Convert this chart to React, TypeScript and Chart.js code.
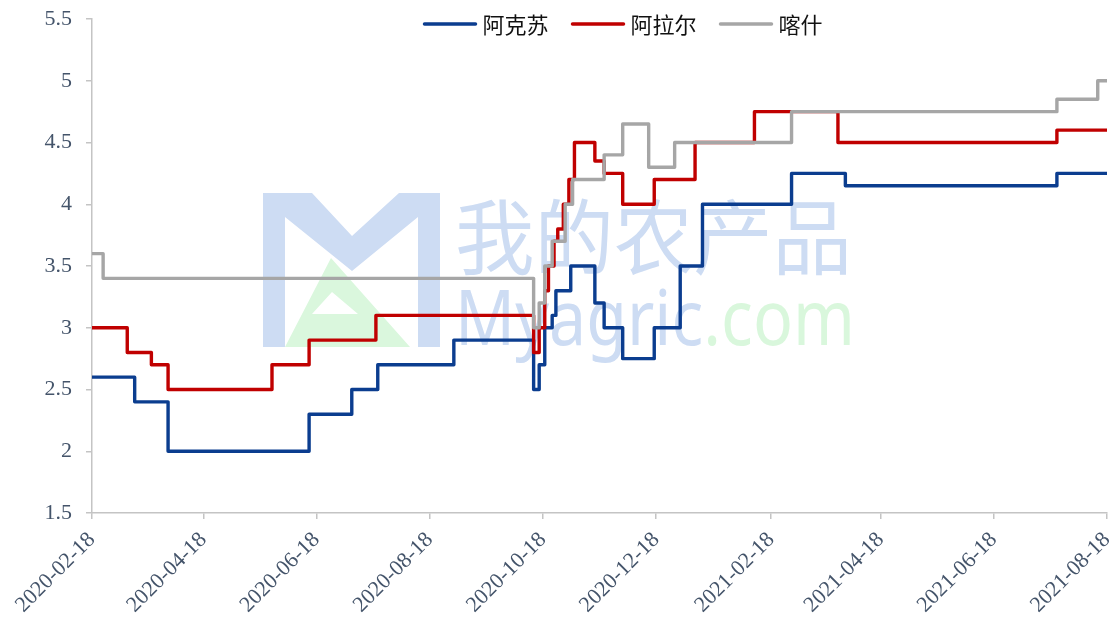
import React, { useEffect, useRef } from 'react';
import { Chart, registerables } from 'chart.js';

Chart.register(...registerables);

// ---------- data ----------
const startDate = '2020-02-18';
const xTickLabels = [
  '2020-02-18', '2020-04-18', '2020-06-18', '2020-08-18', '2020-10-18',
  '2020-12-18', '2021-02-18', '2021-04-18', '2021-06-18', '2021-08-18',
];
const seriesNames = ['阿克苏', '阿拉尔', '喀什'];

// 阿克苏: dates where the price changes, and the new price
const akesuDates = [
  '2020-02-18', '2020-03-12', '2020-03-30', '2020-06-14', '2020-07-07', '2020-07-21',
  '2020-08-31', '2020-10-13', '2020-10-16', '2020-10-19', '2020-10-23', '2020-10-25',
  '2020-11-02', '2020-11-15', '2020-11-20', '2020-11-30', '2020-12-17', '2020-12-31',
  '2021-01-12', '2021-03-01', '2021-03-30', '2021-07-22', '2021-08-18',
];
const akesuValues = [
  2.6, 2.4, 2.0, 2.3, 2.5, 2.7,
  2.9, 2.5, 2.7, 3.0, 3.1, 3.3,
  3.5, 3.2, 3.0, 2.75, 3.0, 3.5,
  4.0, 4.25, 4.15, 4.25, 4.25,
];

// 阿拉尔
const alaerDates = [
  '2020-02-18', '2020-03-08', '2020-03-21', '2020-03-30', '2020-05-25', '2020-06-14',
  '2020-07-20', '2020-10-13', '2020-10-16', '2020-10-19', '2020-10-21', '2020-10-24',
  '2020-10-26', '2020-10-29', '2020-11-01', '2020-11-04', '2020-11-15', '2020-11-20',
  '2020-11-30', '2020-12-17', '2021-01-08', '2021-02-09', '2021-03-26', '2021-07-22',
  '2021-08-18',
];
const alaerValues = [
  3.0, 2.8, 2.7, 2.5, 2.7, 2.9,
  3.1, 2.8, 3.0, 3.3, 3.5, 3.7,
  3.8, 4.0, 4.2, 4.5, 4.35, 4.25,
  4.0, 4.2, 4.5, 4.75, 4.5, 4.6,
  4.6,
];

// 喀什
const kashiDates = [
  '2020-02-18', '2020-02-24', '2020-10-13', '2020-10-16', '2020-10-19', '2020-10-23',
  '2020-10-30', '2020-11-03', '2020-11-20', '2020-11-30', '2020-12-14', '2020-12-28',
  '2021-03-01', '2021-07-22', '2021-08-13', '2021-08-18',
];
const kashiValues = [
  3.6, 3.4, 3.0, 3.2, 3.5, 3.7,
  4.0, 4.2, 4.4, 4.65, 4.3, 4.5,
  4.75, 4.85, 5.0, 5.0,
];

const yMin = 1.5;
const yMax = 5.5;
const yStep = 0.5;

// ---------- helpers ----------
function dayOf(s: string): number {
  const [y, m, d] = s.split('-').map(Number);
  const [y0, m0, d0] = startDate.split('-').map(Number);
  return Math.round((Date.UTC(y, m - 1, d) - Date.UTC(y0, m0 - 1, d0)) / 86400000);
}
function toPoints(dates: string[], values: number[]) {
  return dates.map((d, i) => ({ x: dayOf(d), y: values[i] }));
}

const colors = ['#0b3d8f', '#c00000', '#a6a6a6'];
const tickColor = '#44546a';
const axisColor = '#c4c4c4';
const tickFont = { family: '"Liberation Serif", "Times New Roman", serif', size: 22 };

const legendPlugin = {
  id: 'topLegend',
  afterDraw(chart: any) {
    const ctx = chart.ctx as CanvasRenderingContext2D;
    ctx.save();
    ctx.font = '22px "Noto Sans CJK SC", sans-serif';
    const lineW = 53;
    const gap = 6;
    const itemGap = 23;
    const items = chart.data.datasets.map((ds: any) => ({
      label: ds.label as string,
      color: ds.borderColor as string,
      w: ctx.measureText(ds.label).width,
    }));
    const total = items.reduce((s: number, it: any) => s + lineW + gap + it.w, 0) + itemGap * (items.length - 1);
    const cx = 623;
    const y = 24;
    let x = cx - total / 2;
    for (const it of items) {
      ctx.strokeStyle = it.color;
      ctx.lineWidth = 3.5;
      ctx.lineCap = 'round';
      ctx.beginPath();
      ctx.moveTo(x + 1, y);
      ctx.lineTo(x + lineW - 1, y);
      ctx.stroke();
      ctx.fillStyle = '#111';
      ctx.textBaseline = 'middle';
      ctx.textAlign = 'left';
      ctx.fillText(it.label, x + lineW + gap, y + 1);
      x += lineW + gap + it.w + itemGap;
    }
    ctx.restore();
  },
};

const watermarkPlugin = {
  id: 'watermark',
  beforeDatasetsDraw(chart: any) {
    const ctx = chart.ctx as CanvasRenderingContext2D;
    ctx.save();
    // logo: green triangle
    ctx.fillStyle = '#daf7dd';
    ctx.beginPath();
    ctx.moveTo(285, 347);
    ctx.lineTo(331, 258);
    ctx.lineTo(410, 347);
    ctx.closePath();
    ctx.moveTo(312, 314);
    ctx.lineTo(358, 314);
    ctx.lineTo(332, 292);
    ctx.closePath();
    ctx.fill('evenodd');
    // logo: blue M
    ctx.fillStyle = '#cddcf3';
    ctx.beginPath();
    ctx.moveTo(263, 193);
    ctx.lineTo(312, 193);
    ctx.lineTo(352, 236);
    ctx.lineTo(399, 193);
    ctx.lineTo(440, 193);
    ctx.lineTo(440, 347);
    ctx.lineTo(418, 347);
    ctx.lineTo(418, 217);
    ctx.lineTo(352, 271);
    ctx.lineTo(285, 217);
    ctx.lineTo(285, 347);
    ctx.lineTo(263, 347);
    ctx.closePath();
    ctx.fill();
    // Chinese text
    ctx.fillStyle = '#cddcf3';
    ctx.font = '82px "Noto Sans CJK SC", sans-serif';
    ctx.textBaseline = 'alphabetic';
    ctx.textAlign = 'left';
    const cn = '我的农产品';
    const cnW = ctx.measureText(cn).width;
    ctx.save();
    ctx.translate(455, 268);
    ctx.scale(397 / cnW, 1);
    ctx.fillText(cn, 0, 0);
    ctx.restore();
    // latin text
    ctx.font = '76px "Noto Sans", sans-serif';
    const a = 'Myagric';
    const b = '.com';
    const wa = ctx.measureText(a).width;
    const wb = ctx.measureText(b).width;
    const sx = 400 / (wa + wb);
    ctx.save();
    ctx.translate(455, 345);
    ctx.scale(sx, 1);
    ctx.fillStyle = '#cddcf3';
    ctx.fillText(a, 0, 0);
    ctx.fillStyle = '#d9f7dc';
    ctx.fillText(b, wa, 0);
    ctx.restore();
    ctx.restore();
  },
};

export default function App() {
  const canvasRef = useRef<HTMLCanvasElement | null>(null);

  useEffect(() => {
    const canvas = canvasRef.current;
    if (!canvas) return;
    const tickDays = xTickLabels.map(dayOf);
    const seriesData = [
      toPoints(akesuDates, akesuValues),
      toPoints(alaerDates, alaerValues),
      toPoints(kashiDates, kashiValues),
    ];
    const chart = new Chart(canvas, {
      type: 'line',
      data: {
        datasets: seriesData.map((data, i) => ({
          label: seriesNames[i],
          data,
          borderColor: colors[i],
          backgroundColor: colors[i],
          borderWidth: 3.4,
          pointRadius: 0,
          pointHoverRadius: 0,
          stepped: true,
          fill: false,
          borderJoinStyle: 'round' as const,
          order: 2 - i,
        })),
      },
      options: {
        responsive: false,
        animation: false,
        devicePixelRatio: 1,
        layout: { padding: { top: 19, right: 10, left: 0, bottom: 0 } },
        plugins: {
          legend: { display: false },
          tooltip: { enabled: false },
        },
        scales: {
          x: {
            type: 'linear',
            min: 0,
            max: dayOf(xTickLabels[xTickLabels.length - 1]),
            afterBuildTicks: (scale: any) => {
              scale.ticks = tickDays.map((v) => ({ value: v }));
            },
            afterFit: (scale: any) => {
              scale.height = 108;
              scale.paddingLeft = 0;
              scale.paddingRight = 0;
            },
            ticks: {
              autoSkip: false,
              maxRotation: 45,
              minRotation: 45,
              padding: 8,
              color: tickColor,
              font: tickFont,
              callback: (_v: any, index: number) => xTickLabels[index],
            },
            grid: {
              display: true,
              drawOnChartArea: false,
              drawTicks: true,
              tickLength: 6,
              color: axisColor,
              lineWidth: 1.5,
            },
            border: { display: true, color: axisColor, width: 1.5 },
          },
          y: {
            min: yMin,
            max: yMax,
            afterFit: (scale: any) => {
              scale.width = 92;
              scale.paddingTop = 0;
              scale.paddingBottom = 0;
            },
            ticks: {
              stepSize: yStep,
              padding: 14,
              color: tickColor,
              font: tickFont,
              callback: (v: any) => String(v),
            },
            grid: {
              display: true,
              drawOnChartArea: false,
              drawTicks: true,
              tickLength: 6,
              color: axisColor,
              lineWidth: 1.5,
            },
            border: { display: true, color: axisColor, width: 1.5 },
          },
        },
      },
      plugins: [watermarkPlugin, legendPlugin],
    });
    return () => chart.destroy();
  }, []);

  return (
    <div style={{ position: 'fixed', left: 0, top: 0, width: 1117, height: 621, background: '#fff' }}>
      <canvas ref={canvasRef} width={1117} height={621} style={{ display: 'block' }} />
    </div>
  );
}
